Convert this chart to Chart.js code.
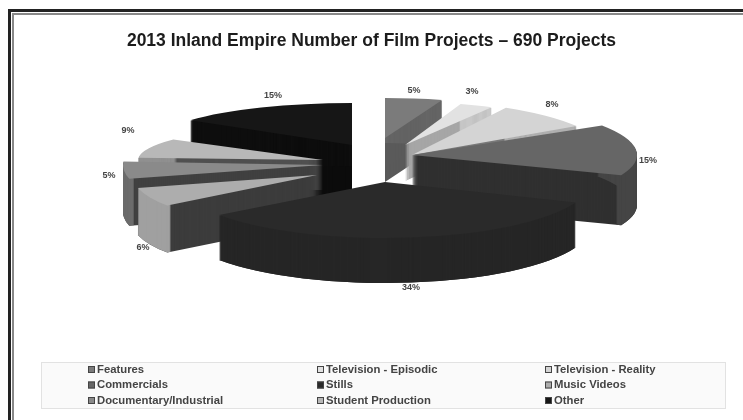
<!DOCTYPE html>
<html>
<head>
<meta charset="utf-8">
<title>Inland Empire Film Projects</title>
<script src="https://cdn.jsdelivr.net/npm/chart.js@4"></script>
<style>
  html, body { margin: 0; padding: 0; background: #fff; overflow: hidden; }
  #wrap { position: absolute; left: 0; top: 0; width: 743px; height: 420px; overflow: hidden; }
  #frame_outer { position: absolute; left: 8px; top: 9px; width: 740px; height: 420px; border-top: 3px solid #222; border-left: 3px solid #222; }
  #frame_inner { position: absolute; left: 12px; top: 13px; width: 740px; height: 420px; border-top: 2px solid #888; border-left: 2px solid #888; }
</style>
</head>
<body>
<div id="wrap">
  <canvas id="myChart" width="743" height="420"></canvas>
  <div id="frame_outer"></div>
  <div id="frame_inner"></div>
</div>
<script>
const categories = ["Features", "Television - Episodic", "Television - Reality", "Commercials", "Stills", "Music Videos", "Documentary/Industrial", "Student Production", "Other"];
const project_share = [5, 3, 8, 15, 34, 6, 5, 9, 15];

const slice_colors = ["#7b7b7b", "#e2e2e2", "#d4d4d4", "#666666", "#2a2a2a", "#adadad", "#8a8a8a", "#b8b8b8", "#161616"];
const rim_colors = ["#666666", "#c8c8c8", "#b0b0b0", "#454545", "#262626", "#a0a0a0", "#6c6c6c", "#909090", "#0e0e0e"];
const cut_colors = ["#5a5a5a", "#a6a6a6", "#7a7a7a", "#303030", "#262626", "#3c3c3c", "#404040", "#505050", "#0c0c0c"];

// how far each wedge is pulled away from the middle of the pie, and its own tilt
const pull_x = [17, 37, 44, 44, 17, -51, -45, -45, -16];
const pull_y = [-12, -5, 5, 5, 32, 25, 15, 10, -5];
const wide = [185, 180, 195, 225, 205, 185, 200, 185, 200];
const tall = [40, 43, 54, 55, 56, 52, 55, 35, 42];
const wall = [44, 36, 40, 50, 45, 47, 47, 30, 62];

const label_x = [414, 472, 552, 648, 411, 143, 109, 128, 273];
const label_y = [91, 92, 105, 161, 288, 248, 176, 131, 96];

const pie_middle_x = 368;
const pie_middle_y = 150;
const pie_radius = 200;
const rim_width = 5;

const legend_columns = [88, 317, 545];
const legend_rows = [369, 384.5, 400];

function draw_wall(ctx, arc, i, color, height) {
    const base = arc.options;
    arc.options = Object.assign({}, base, { backgroundColor: color, borderWidth: 0 });
    for (let h = height; h > 0; h--) {
        ctx.save();
        ctx.translate(0, h * pie_radius / tall[i]);
        arc.draw(ctx);
        ctx.restore();
    }
    arc.options = base;
}

// draws each wedge squashed and stacked so that the slices read as thick blocks
const pie_3d = {
    id: "pie_3d",
    beforeDatasetDraw(chart, args) {
        const ctx = chart.ctx;
        const arcs = args.meta.data.map((arc, i) => ({ arc: arc, i: i }));
        // far slices first, near slices painted over them
        arcs.sort((a, b) => {
            const mid_a = (a.arc.startAngle + a.arc.endAngle) / 2;
            const mid_b = (b.arc.startAngle + b.arc.endAngle) / 2;
            return Math.sin(mid_a) - Math.sin(mid_b);
        });
        arcs.forEach(item => {
            const arc = item.arc;
            const i = item.i;
            ctx.save();
            ctx.translate(pie_middle_x + pull_x[i], pie_middle_y + pull_y[i]);
            ctx.scale(wide[i] / pie_radius, tall[i] / pie_radius);
            ctx.translate(-arc.x, -arc.y);

            draw_wall(ctx, arc, i, cut_colors[i], wall[i]);

            // the curved outside of the wedge gets its own lighter shade
            const inner = arc.innerRadius;
            arc.innerRadius = arc.outerRadius - rim_width;
            draw_wall(ctx, arc, i, rim_colors[i], wall[i]);
            arc.innerRadius = inner;

            arc.draw(ctx);
            ctx.restore();
        });
        return false;
    },
    afterDraw(chart) {
        const ctx = chart.ctx;

        ctx.fillStyle = "#444";
        ctx.font = "bold 9px 'Liberation Sans'";
        ctx.textAlign = "center";
        ctx.textBaseline = "middle";
        project_share.forEach((share, i) => {
            ctx.fillText(share + "%", label_x[i], label_y[i]);
        });

        // three column legend box
        ctx.fillStyle = "#fafafa";
        ctx.fillRect(41, 362, 684, 46);
        ctx.strokeStyle = "#e2e2e2";
        ctx.lineWidth = 1;
        ctx.strokeRect(41.5, 362.5, 684, 46);
        ctx.textAlign = "left";
        ctx.font = "bold 11.3px 'Liberation Sans'";
        categories.forEach((name, i) => {
            const x = legend_columns[i % 3];
            const y = legend_rows[Math.floor(i / 3)];
            ctx.fillStyle = slice_colors[i];
            ctx.fillRect(x, y - 3, 7, 7);
            ctx.strokeStyle = "#444";
            ctx.strokeRect(x + 0.5, y - 2.5, 6, 6);
            ctx.fillStyle = "#444";
            ctx.fillText(name, x + 9, y + 0.5);
        });
    }
};

const chart_data = {
    labels: categories,
    datasets: [{
        data: project_share,
        backgroundColor: slice_colors,
        borderWidth: 0
    }]
};

const config = {
    type: "pie",
    data: chart_data,
    plugins: [pie_3d],
    options: {
        responsive: false,
        animation: false,
        radius: pie_radius,
        plugins: {
            legend: { display: false },
            tooltip: { enabled: false },
            title: {
                display: true,
                text: "2013 Inland Empire Number of Film Projects – 690 Projects",
                color: "#1c1c1c",
                font: { family: "Liberation Sans", size: 17.5, weight: "bold" },
                padding: { top: 31, bottom: 0 }
            }
        }
    }
};

const myChart = new Chart(document.getElementById("myChart"), config);
</script>
</body>
</html>
